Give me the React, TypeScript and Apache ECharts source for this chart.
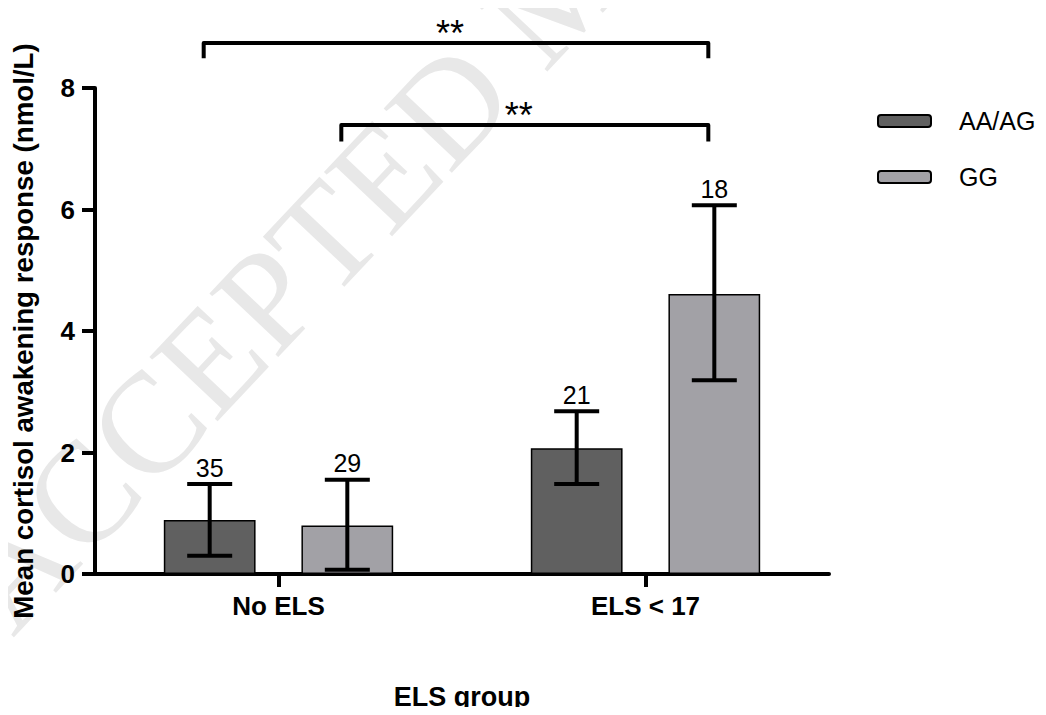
import React, { useEffect, useRef } from "react";
import * as echarts from "echarts";

const categories = ["No ELS", "ELS < 17"];
const seriesNames = ["AA/AG", "GG"];
const aaMean = [0.89, 2.07];
const aaLow = [0.3, 1.48];
const aaHigh = [1.48, 2.68];
const aaN = [35, 21];
const ggMean = [0.8, 4.61];
const ggLow = [0.07, 3.19];
const ggHigh = [1.55, 6.07];
const ggN = [29, 18];
const barColors = ["#606060", "#a2a1a6"];
const yMin = 0;
const yMax = 8;
const yStep = 2;

// significance brackets: [fromCategory, fromSeries] -> [toCategory, toSeries]
const brackets = [
  { fromCat: 0, fromSeries: 0, toCat: 1, toSeries: 1, level: 8.74, legTo: 8.49, label: "**" },
  { fromCat: 0, fromSeries: 1, toCat: 1, toSeries: 1, level: 7.39, legTo: 7.12, label: "**" },
];

const FONT = "'Liberation Sans', Arial, Helvetica, sans-serif";
const BAR_FRAC = 0.25;
const OFFSET_FRAC = 0.1875;

function errorSeries(name: string, sign: number, lows: number[], highs: number[], ns: number[]) {
  return {
    type: "custom",
    name,
    z: 5,
    data: categories.map((_, i) => [i, lows[i], highs[i], ns[i]]),
    encode: { x: 0, y: [1, 2] },
    renderItem: (params: any, api: any) => {
      const cat = api.value(0);
      const lo = api.value(1);
      const hi = api.value(2);
      const n = api.value(3);
      const band = api.size([1, 0])[0];
      const off = sign * OFFSET_FRAC * band;
      const pLo = api.coord([cat, lo]);
      const pHi = api.coord([cat, hi]);
      const x = pLo[0] + off;
      const cap = 22.5;
      const ls = { stroke: "#000", lineWidth: 4 };
      return {
        type: "group",
        children: [
          { type: "line", shape: { x1: x, y1: pLo[1], x2: x, y2: pHi[1] }, style: ls },
          { type: "line", shape: { x1: x - cap, y1: pHi[1], x2: x + cap, y2: pHi[1] }, style: ls },
          { type: "line", shape: { x1: x - cap, y1: pLo[1], x2: x + cap, y2: pLo[1] }, style: ls },
          {
            type: "text",
            x,
            y: pHi[1] - 4,
            style: {
              text: String(n),
              fill: "#000",
              fontSize: 25,
              fontFamily: FONT,
              align: "center",
              verticalAlign: "bottom",
              textAlign: "center",
              textVerticalAlign: "bottom",
            },
          },
        ],
      };
    },
  };
}

export default function App() {
  const ref = useRef<HTMLDivElement>(null);
  useEffect(() => {
    if (!ref.current) return;
    const chart = echarts.init(ref.current, null, { renderer: "svg" });
    const axisLine = { show: true, lineStyle: { color: "#000", width: 4 } };
    const axisTick = { show: true, length: 13, lineStyle: { color: "#000", width: 4 } };
    chart.setOption({
      animation: false,
      backgroundColor: "#fff",
      grid: { left: 95, right: 217, top: 88, bottom: 138, containLabel: false },
      legend: {
        orient: "vertical",
        left: 872,
        top: 101,
        itemWidth: 53,
        itemHeight: 12,
        itemGap: 26,
        data: seriesNames,
        textStyle: {
          fontSize: 25,
          fontFamily: FONT,
          color: "#000",
          lineHeight: 30,
          padding: [0, 0, 0, 23],
        },
      },
      xAxis: {
        type: "category",
        data: categories,
        name: "ELS group",
        nameLocation: "middle",
        nameGap: 109,
        nameTextStyle: { fontSize: 27, fontWeight: "bold", fontFamily: FONT, color: "#000" },
        axisLine,
        axisTick: { ...axisTick, alignWithLabel: true },
        axisLabel: { fontSize: 26, fontWeight: "bold", fontFamily: FONT, color: "#000", margin: 19 },
        splitLine: { show: false },
      },
      yAxis: {
        type: "value",
        min: yMin,
        max: yMax,
        interval: yStep,
        name: "Mean cortisol awakening response (nmol/L)",
        nameLocation: "middle",
        nameGap: 58,
        nameTextStyle: { fontSize: 27.7, fontWeight: "bold", fontFamily: FONT, color: "#000" },
        axisLine,
        axisTick,
        axisLabel: { fontSize: 26, fontWeight: "bold", fontFamily: FONT, color: "#000", margin: 20 },
        splitLine: { show: false },
      },
      series: [
        {
          type: "bar",
          name: seriesNames[0],
          data: aaMean,
          barWidth: `${BAR_FRAC * 100}%`,
          barGap: "50%",
          itemStyle: { color: barColors[0], borderColor: "#000", borderWidth: 1.5 },
        },
        {
          type: "bar",
          name: seriesNames[1],
          data: ggMean,
          barWidth: `${BAR_FRAC * 100}%`,
          barGap: "50%",
          itemStyle: { color: barColors[1], borderColor: "#000", borderWidth: 1.5 },
        },
        errorSeries("err0", -1, aaLow, aaHigh, aaN),
        errorSeries("err1", 1, ggLow, ggHigh, ggN),
      ],
    });

    const p0 = chart.convertToPixel({ gridIndex: 0 }, [0, 0]) as number[];
    const p1 = chart.convertToPixel({ gridIndex: 0 }, [1, 0]) as number[];
    const band = p1[0] - p0[0];
    const barX = (cat: number, s: number) => {
      const c = chart.convertToPixel({ gridIndex: 0 }, [cat, 0]) as number[];
      return c[0] + (s === 0 ? -1 : 1) * OFFSET_FRAC * band - 6;
    };
    const yPx = (v: number) => (chart.convertToPixel({ gridIndex: 0 }, [0, v]) as number[])[1];

    const graphics: any[] = [
      {
        type: "text",
        x: 560,
        y: -12,
        rotation: 0.815,
        silent: true,
        z: -10,
        style: {
          text: "ACCEPTED MANUSCRIPT",
          fill: "#e8e8e8",
          fontSize: 143,
          fontFamily: "'Liberation Serif', 'Times New Roman', serif",
          align: "center",
          verticalAlign: "middle",
          textAlign: "center",
          textVerticalAlign: "middle",
        },
      },
    ];
    brackets.forEach((b) => {
      const xa = barX(b.fromCat, b.fromSeries);
      const xb = barX(b.toCat, b.toSeries);
      const yl = yPx(b.level);
      const yleg = yPx(b.legTo);
      graphics.push({
        type: "polyline",
        z: 50,
        shape: { points: [[xa, yleg], [xa, yl], [xb, yl], [xb, yleg]] },
        style: { stroke: "#000", lineWidth: 4, fill: null, lineJoin: "round" },
      });
      graphics.push({
        type: "text",
        z: 50,
        x: (xa + xb) / 2 - 6,
        y: yl - 10,
        style: {
          text: b.label,
          fill: "#000",
          fontSize: 36,
          fontFamily: FONT,
          align: "center",
          verticalAlign: "middle",
          textAlign: "center",
          textVerticalAlign: "middle",
        },
      });
    });
    chart.setOption({ graphic: graphics });

    return () => chart.dispose();
  }, []);
  return <div ref={ref} style={{ width: 1046, height: 715, margin: -8 }} />;
}
